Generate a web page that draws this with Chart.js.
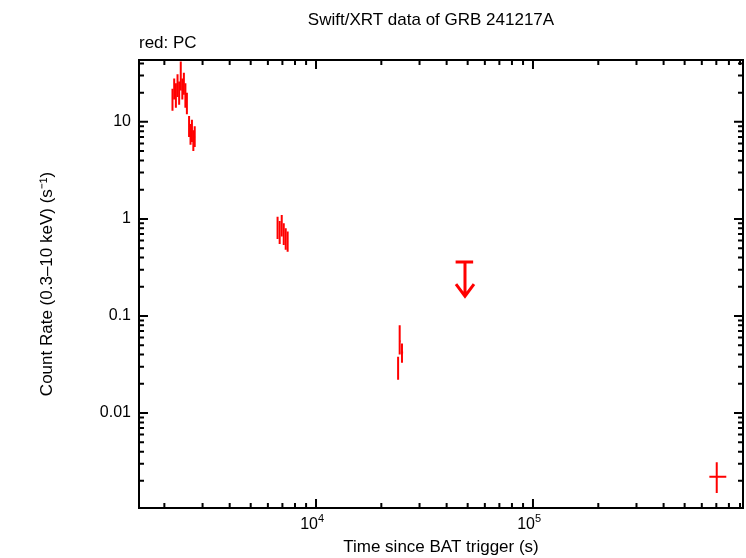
<!DOCTYPE html>
<html><head><meta charset="utf-8">
<script src="https://cdn.jsdelivr.net/npm/chart.js@4/dist/chart.umd.min.js"></script>
<style>html,body{margin:0;padding:0;background:#fff}#w{width:746px;height:558px}</style>
</head><body><div id="w"><canvas id="c"></canvas></div>
<script>
const pcTime  = [2180,2220,2260,2300,2340,2380,2420,2460,2500,2540,2600,2640,2680,2720,2760,6650,6800,6950,7100,7250,7400,23900,24300,24900,703000];
const pcTimeLo= [2165,2205,2245,2285,2325,2365,2405,2445,2485,2525,2580,2620,2660,2700,2740,6600,6730,6880,7030,7180,7330,23700,24150,24600,650000];
const pcTimeHi= [2195,2235,2275,2315,2355,2395,2435,2475,2515,2555,2620,2660,2700,2740,2790,6700,6870,7020,7170,7320,7480,24100,24600,25200,778000];
const pcRate  = [17,22,19,24,20,28,22,25,19,15,9,7.5,8,6.5,7,0.8,0.72,0.85,0.7,0.62,0.58,0.03,0.055,0.042,0.0022];
const pcRateLo= [13,17,14,18,15,21,17,19,14,12,7,5.8,6.2,5,5.5,0.62,0.55,0.66,0.54,0.48,0.46,0.022,0.04,0.033,0.0015];
const pcRateHi= [22,28,25,31,26,42,28,32,25,20,11.5,9.5,10.5,8.2,9,1.05,0.95,1.1,0.9,0.8,0.74,0.038,0.08,0.052,0.0031];
const ulTime=[48600], ulTimeLo=[44000], ulTimeHi=[53000], ulRate=[0.36], ulArrowTo=[0.16];
const xMin=1528, xMax=929000, yMin=0.00105, yMax=43.4;
const xMajor=[1e3,1e4,1e5,1e6], yMajor=[0.001,0.01,0.1,1,10,100];
const yLabels={"0.01":"0.01","0.1":"0.1","1":"1","10":"10"};

const plot={id:'p',afterDraw(ch){
 const c=ch.ctx,x=ch.scales.x,y=ch.scales.y,a=ch.chartArea;
 const X=v=>x.getPixelForValue(v),Y=v=>y.getPixelForValue(v);
 c.save();c.beginPath();c.rect(a.left,a.top,a.right-a.left,a.bottom-a.top);c.clip();
 c.strokeStyle='#f00';c.lineWidth=2;
 for(let i=0;i<pcTime.length;i++){c.beginPath();
  c.moveTo(X(pcTimeLo[i]),Y(pcRate[i]));c.lineTo(X(pcTimeHi[i]),Y(pcRate[i]));
  c.moveTo(X(pcTime[i]),Y(pcRateLo[i]));c.lineTo(X(pcTime[i]),Y(pcRateHi[i]));c.stroke();}
 for(let i=0;i<ulTime.length;i++){const px=X(ulTime[i]),py=Y(ulRate[i]),pe=Y(ulArrowTo[i]);
  c.lineWidth=3;c.beginPath();c.moveTo(X(ulTimeLo[i]),py);c.lineTo(X(ulTimeHi[i]),py);
  c.moveTo(px,py);c.lineTo(px,pe);c.moveTo(px-9,pe-12);c.lineTo(px,pe);c.lineTo(px+9,pe-12);c.stroke();}
 c.restore();
 c.save();c.strokeStyle='#000';c.lineWidth=2;
 c.strokeRect(a.left,a.top,a.right-a.left,a.bottom-a.top);
 c.beginPath();
 for(const d of xMajor)for(let m=1;m<10;m++){const v=d*m;if(v<xMin||v>xMax)continue;const p=X(v),L=m==1?9:5;
  c.moveTo(p,a.bottom);c.lineTo(p,a.bottom-L);c.moveTo(p,a.top);c.lineTo(p,a.top+L);}
 for(const d of yMajor)for(let m=1;m<10;m++){const v=d*m;if(v<yMin||v>yMax)continue;const p=Y(v),L=m==1?9:5;
  c.moveTo(a.left,p);c.lineTo(a.left+L,p);c.moveTo(a.right,p);c.lineTo(a.right-L,p);}
 c.stroke();
 c.fillStyle='#000';c.font='16px "Liberation Sans"';c.textBaseline='middle';c.textAlign='right';
 for(const k in yLabels)c.fillText(yLabels[k],a.left-8,Y(+k));
 for(const d of xMajor){if(d<xMin||d>xMax)continue;const p=X(d);const e=String(Math.round(Math.log10(d)));
  c.font='16px "Liberation Sans"';c.textAlign='right';c.textBaseline='alphabetic';c.fillText('10',p+2,a.bottom+21);
  c.font='11px "Liberation Sans"';c.textAlign='left';c.fillText(e,p+2,a.bottom+14);}
 c.font='17px "Liberation Sans"';c.textAlign='center';c.textBaseline='middle';
 c.fillText('Swift/XRT data of GRB 241217A',431,20);
 c.fillText('Time since BAT trigger (s)',441,547);
 c.textAlign='left';c.fillText('red: PC',139,43);
 c.translate(47,284);c.rotate(-Math.PI/2);c.textAlign='center';
 c.fillText('Count Rate (0.3\u201310 keV) (s\u207B\u00B9)',0,0);
 c.restore();}};

new Chart(document.getElementById('c'),{type:'scatter',
 data:{datasets:[{data:pcTime.map((t,i)=>({x:t,y:pcRate[i]})),pointRadius:0}]},
 options:{responsive:true,maintainAspectRatio:false,animation:false,devicePixelRatio:1,
  layout:{padding:{left:139,right:3,top:60,bottom:50}},
  plugins:{legend:{display:false},tooltip:{enabled:false}},
  scales:{x:{type:'logarithmic',min:xMin,max:xMax,display:false},
          y:{type:'logarithmic',min:yMin,max:yMax,display:false}}},
 plugins:[plot]});
</script></body></html>
